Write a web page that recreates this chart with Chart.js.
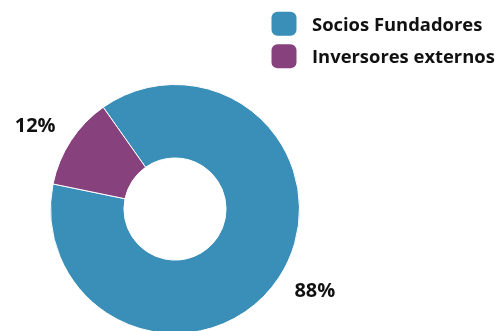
<!DOCTYPE html>
<html>
<head>
<meta charset="utf-8">
<script src="https://cdn.jsdelivr.net/npm/chart.js@4/dist/chart.umd.min.js"></script>
<style>
  html, body { margin: 0; padding: 0; background: #fff; overflow: hidden; }
  #wrap { width: 501px; height: 331px; overflow: hidden; }
</style>
</head>
<body>
<div id="wrap"><canvas id="c" width="501" height="340"></canvas></div>
<script>
const categories = ['Socios Fundadores', 'Inversores externos'];
const shares = [88, 12];
const colors = ['#3a8fb8', '#87417d'];

const FONT = '"Open Sans", sans-serif';

// Percent labels placed outside each arc
const outsideLabels = {
  id: 'outsideLabels',
  afterDatasetsDraw(chart) {
    const ctx = chart.ctx;
    const meta = chart.getDatasetMeta(0);
    ctx.save();
    ctx.font = '700 20px ' + FONT;
    ctx.fillStyle = '#111';
    ctx.textAlign = 'center';
    ctx.textBaseline = 'middle';
    meta.data.forEach((arc, i) => {
      const p = arc.getProps(['x', 'y', 'startAngle', 'endAngle', 'outerRadius'], true);
      const mid = (p.startAngle + p.endAngle) / 2 - 0.045;
      const r = p.outerRadius + 38;
      ctx.fillText(shares[i] + '%', p.x + Math.cos(mid) * r, p.y + Math.sin(mid) * r);
    });
    ctx.restore();
  }
};

// Legend drawn in the top-right corner
const cornerLegend = {
  id: 'cornerLegend',
  afterDraw(chart) {
    const ctx = chart.ctx;
    ctx.save();
    ctx.font = '700 18.4px ' + FONT;
    ctx.textBaseline = 'alphabetic';
    ctx.textAlign = 'left';
    categories.forEach((label, i) => {
      const y = 11.7 + i * 32.5;
      ctx.fillStyle = colors[i];
      ctx.beginPath();
      ctx.roundRect(271.5, y, 25, 24, 6);
      ctx.fill();
      ctx.fillStyle = '#111';
      ctx.fillText(label, 312, y + 19);
    });
    ctx.restore();
  }
};

new Chart(document.getElementById('c'), {
  type: 'doughnut',
  data: {
    labels: categories,
    datasets: [{
      data: shares,
      backgroundColor: colors,
      borderColor: '#fff',
      borderWidth: 1,
      hoverOffset: 0
    }]
  },
  options: {
    responsive: false,
    animation: false,
    cutout: '41%',
    rotation: -35.2,
    layout: { padding: { left: 50, right: 201, top: 84, bottom: 6 } },
    plugins: {
      legend: { display: false },
      tooltip: { enabled: false }
    }
  },
  plugins: [outsideLabels, cornerLegend]
});
</script>
</body>
</html>
